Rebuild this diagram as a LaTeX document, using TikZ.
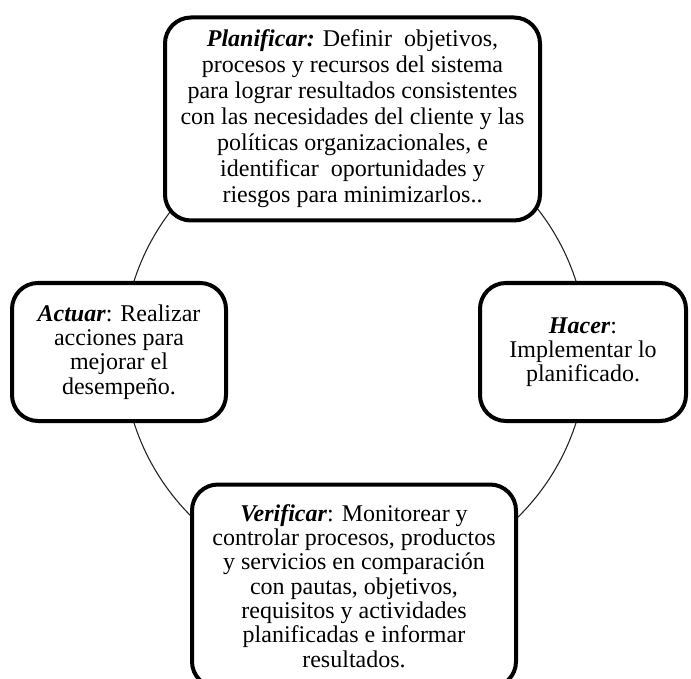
\documentclass[tikz,border=0pt]{standalone}
\usepackage{fontspec}
\setmainfont{Liberation Serif}
\newcommand{\stage}[1]{\textbf{\textit{#1}}}
\begin{document}
\begin{tikzpicture}[x=1pt, y=-1pt,
  phase/.style={draw=black, line width=4pt, rounded corners=26pt, fill=white,
    align=center, inner sep=0pt, font=\fontsize{24}{24.3}\selectfont},
  cycle/.style={line width=1.1pt, draw=black!85}]
\useasboundingbox (0,0) rectangle (691,679);

% the PDCA cycle running behind the four phases
\coordinate (c) at (355,352);
\draw[cycle] (c) circle[radius=232pt];

\node[phase, minimum width=375, minimum height=203, font=\fontsize{24}{26}\selectfont]
  (plan) at (352.5,119)
  {\stage{Planificar:} Definir\ \ objetivos,\\
   procesos y recursos del sistema\\
   para lograr resultados consistentes\\
   con las necesidades del cliente y las\\
   políticas organizacionales, e\\
   identificar\ \ oportunidades y\\
   riesgos para minimizarlos..};

\node[phase, minimum width=206, minimum height=138] (do) at (583,352)
  {\stage{Hacer}:\\Implementar lo\\planificado.};

\node[phase, minimum width=324, minimum height=203] (check) at (354,586)
  {\stage{Verificar}: Monitorear y\\
   controlar procesos, productos\\
   y servicios en comparación\\
   con pautas, objetivos,\\
   requisitos y actividades\\
   planificadas e informar\\
   resultados.};

\node[phase, minimum width=214, minimum height=138] (act) at (119,352)
  {\stage{Actuar}: Realizar\\acciones para\\mejorar el\\desempeño.};
\end{tikzpicture}
\end{document}
